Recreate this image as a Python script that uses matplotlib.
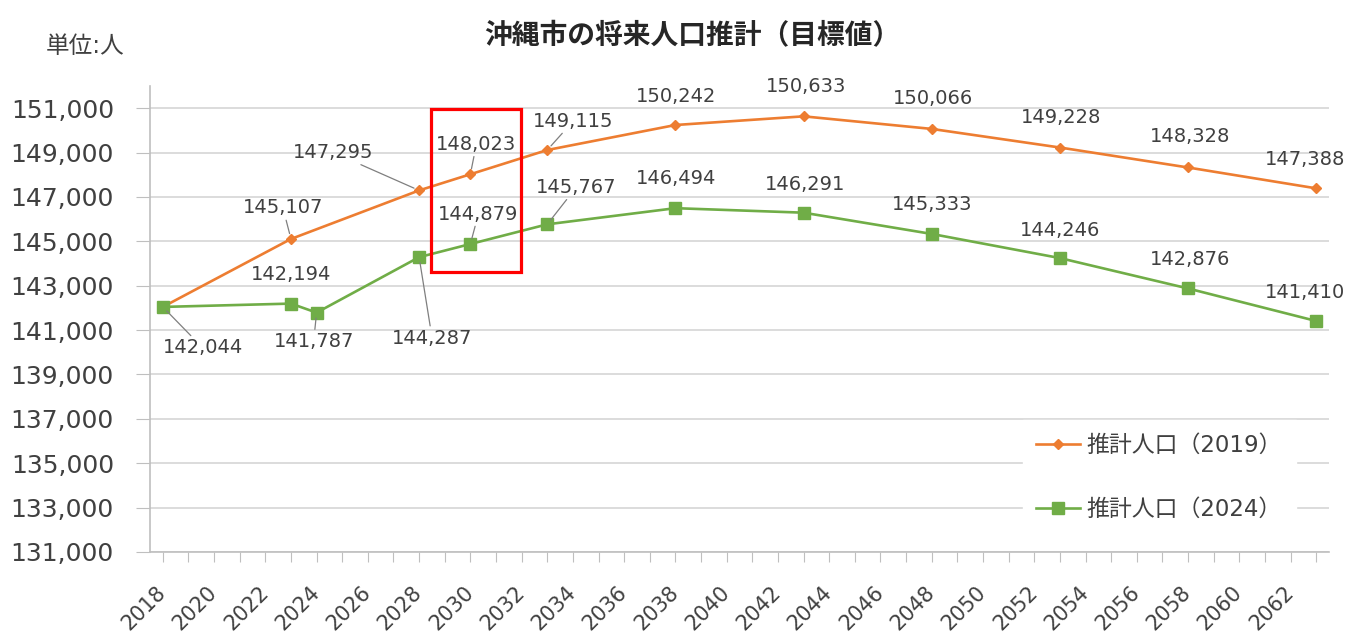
import matplotlib
matplotlib.use("Agg")
import matplotlib.pyplot as plt
from matplotlib.patches import Rectangle

plt.rcParams['font.family'] = ['DejaVu Sans', 'Noto Sans CJK JP']

# data
years_2019 = [2018, 2023, 2028, 2030, 2033, 2038, 2043, 2048, 2053, 2058, 2063]
pop_2019 = [142044, 145107, 147295, 148023, 149115, 150242, 150633, 150066, 149228, 148328, 147388]
years_2024 = [2018, 2023, 2024, 2028, 2030, 2033, 2038, 2043, 2048, 2053, 2058, 2063]
pop_2024 = [142044, 142194, 141787, 144287, 144879, 145767, 146494, 146291, 145333, 144246, 142876, 141410]

label_2019 = '推計人口（2019）'
label_2024 = '推計人口（2024）'
title = '沖縄市の将来人口推計（目標値）'
unit = '単位:人'

year_ticks = list(range(2018, 2064))
y_ticks = list(range(131000, 151001, 2000))

orange = '#ED7D31'
green = '#70AD47'
text_col = '#404040'
grid_col = '#D9D9D9'

# label offsets in pixels (dx, dy up), None = no label; flag = leader line
off_2019 = [None, (-8, 31, True), (-86, 38, True), (6, 30, True), (26, 29, True), (1, 29), (2, 30),
            (1, 30), (1, 30), (2, 31), (-11, 29)]
off_2024 = [(40, -41, True), (0, 29), (-3, -29, True), (13, -81, True), (8, 30, True),
            (29, 37, True), (1, 30), (1, 28), (0, 29), (0, 28), (2, 29), (-11, 28)]

fig = plt.figure(figsize=(13.49, 6.32), dpi=100)
ax = fig.add_axes([150 / 1349, 80 / 632, 1179 / 1349, 466 / 632])

ax.plot(years_2019, pop_2019, color=orange, lw=1.9, marker='D', ms=5,
        label=label_2019, zorder=3)
ax.plot(years_2024, pop_2024, color=green, lw=1.9, marker='s', ms=8,
        label=label_2024, zorder=3)

for xs, ys, offs in [(years_2019, pop_2019, off_2019), (years_2024, pop_2024, off_2024)]:
    for x, y, o in zip(xs, ys, offs):
        if o is None:
            continue
        props = None
        if len(o) > 2:
            props = dict(arrowstyle='-', color='#7F7F7F', lw=0.9, shrinkA=0, shrinkB=4)
        ax.annotate(f'{y:,}', (x, y), xytext=(o[0], o[1]), textcoords='offset pixels',
                    ha='center', va='center', fontsize=14, color=text_col,
                    arrowprops=props, zorder=4)

ax.set_xlim(2017.5, 2063.5)
ax.set_ylim(131000, 152000)
ax.set_yticks(y_ticks)
ax.set_yticklabels([f'{v:,}' for v in y_ticks])
ax.set_xticks(year_ticks)
ax.set_xticklabels([str(y) if (y - 2018) % 2 == 0 else '' for y in year_ticks],
                   rotation=45, ha='right', va='center', rotation_mode='anchor')

ax.grid(axis='y', color=grid_col, lw=1.3)
ax.set_axisbelow(True)
for s in ['top', 'right']:
    ax.spines[s].set_visible(False)
for s in ['left', 'bottom']:
    ax.spines[s].set_color('#BFBFBF')
    ax.spines[s].set_linewidth(1.2)
ax.tick_params(axis='y', length=10, color='#BFBFBF', labelsize=18, labelcolor=text_col, pad=16)
ax.tick_params(axis='x', length=7, color='#BFBFBF', labelsize=15, labelcolor=text_col, pad=20)

# highlight box around 2030
ax.add_patch(Rectangle((2028.46, 143620), 3.51, 7345, fill=False, ec='#FF0000',
                       lw=2.3, clip_on=False, zorder=6))

leg = ax.legend(loc='center', bbox_to_anchor=(0.856, 0.160), fontsize=16.5, frameon=True,
                facecolor='white', edgecolor='white', framealpha=1, fancybox=False,
                handlelength=1.9, handletextpad=0.3, labelspacing=1.8, borderpad=0.6)
for t in leg.get_texts():
    t.set_color(text_col)

fig.text(0.513, 0.943, title, ha='center', va='center', fontsize=20, fontweight='bold',
         color='#262626')
fig.text(0.063, 0.927, unit, ha='center', va='center', fontsize=17, color=text_col)

fig.savefig('out.png', dpi=100)
